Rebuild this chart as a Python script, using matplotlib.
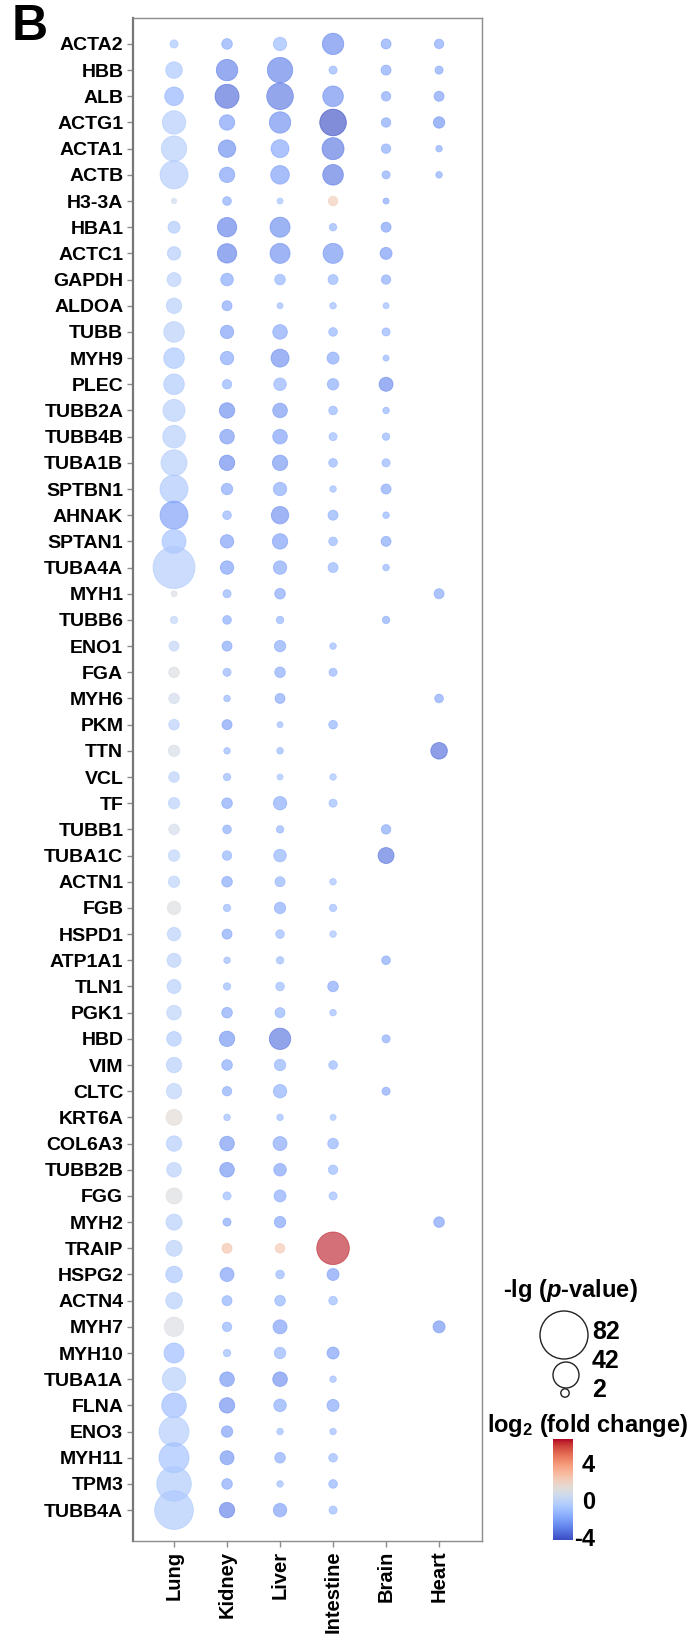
import numpy as np
import matplotlib
matplotlib.use('Agg')
import matplotlib.pyplot as plt
from matplotlib import rcParams
from matplotlib.colors import Normalize
from matplotlib.cm import ScalarMappable

rcParams['font.family'] = ['Liberation Sans', 'DejaVu Sans']
rcParams['font.weight'] = 'bold'
rcParams['axes.unicode_minus'] = False
rcParams['mathtext.fontset'] = 'custom'
rcParams['mathtext.rm'] = 'Liberation Sans:bold'
rcParams['mathtext.it'] = 'Liberation Sans:bold:italic'
rcParams['mathtext.bf'] = 'Liberation Sans:bold'

nan = np.nan

genes = ['ACTA2', 'HBB', 'ALB', 'ACTG1', 'ACTA1', 'ACTB', 'H3-3A', 'HBA1', 'ACTC1', 'GAPDH',
         'ALDOA', 'TUBB', 'MYH9', 'PLEC', 'TUBB2A', 'TUBB4B', 'TUBA1B', 'SPTBN1', 'AHNAK', 'SPTAN1',
         'TUBA4A', 'MYH1', 'TUBB6', 'ENO1', 'FGA', 'MYH6', 'PKM', 'TTN', 'VCL', 'TF',
         'TUBB1', 'TUBA1C', 'ACTN1', 'FGB', 'HSPD1', 'ATP1A1', 'TLN1', 'PGK1', 'HBD', 'VIM',
         'CLTC', 'KRT6A', 'COL6A3', 'TUBB2B', 'FGG', 'MYH2', 'TRAIP', 'HSPG2', 'ACTN4', 'MYH7',
         'MYH10', 'TUBA1A', 'FLNA', 'ENO3', 'MYH11', 'TPM3', 'TUBB4A']
tissues = ['Lung', 'Kidney', 'Liver', 'Intestine', 'Brain', 'Heart']

# -lg(p-value) per tissue (nan = not detected)
lung_lgp = [1.8, 20.6, 25.2, 36.1, 40.6, 45.6, 0.2, 10.2, 13.4, 14.7,
            17.9, 29.7, 29.7, 29.7, 32.9, 34.3, 42, 45.6, 45.6, 37.5,
            71, 0.6, 1.4, 5.6, 7, 7, 7, 8.8, 7, 8.8,
            7, 8.8, 8.8, 13.4, 13.4, 14.7, 14.7, 16.1, 16.1, 17.9,
            17.9, 19.3, 17.9, 16.1, 19.3, 19.3, 19.3, 20.6, 20.6, 27,
            28.4, 36.1, 38.8, 49.3, 49.3, 57.6, 65]
kidney_lgp = [7, 31.5, 37.5, 17.9, 22.5, 17.9, 2.5, 27, 27, 11.5,
              5.6, 13.4, 13.4, 4.3, 17.9, 16.1, 17.9, 8.8, 2.5, 13.4,
              13.4, 1.8, 2.5, 5.6, 1.8, 0.9, 5.6, 0.9, 1.4, 7,
              2.5, 4.3, 7, 1.4, 5.6, 0.9, 1.4, 7, 17.9, 7,
              4.3, 0.9, 16.1, 16.1, 1.8, 1.8, 5.6, 14.7, 5.6, 4.3,
              1.4, 16.1, 17.9, 8.8, 14.7, 7, 17.9]
liver_lgp = [13.4, 40.6, 43.1, 31.5, 23.8, 25.2, 0.6, 28.4, 28.4, 7,
             0.6, 16.1, 23.8, 11.5, 16.1, 16.1, 17.9, 13.4, 22.5, 17.9,
             13.4, 7, 1.4, 8.8, 7, 5.6, 0.6, 0.9, 0.6, 13.4,
             1.4, 11.5, 5.6, 8.8, 2.5, 1.4, 2.5, 5.6, 31.5, 8.8,
             13.4, 0.9, 14.7, 11.5, 10.2, 8.8, 4.3, 2.5, 7, 14.7,
             8.8, 16.1, 11.5, 0.9, 7, 0.9, 13.4]
intestine_lgp = [31.5, 1.8, 29.7, 43.1, 32.9, 29.7, 4.3, 1.4, 28.4, 5.6,
                 0.9, 2.5, 10.2, 8.8, 2.5, 1.8, 2.5, 0.9, 5.6, 2.5,
                 5.6, nan, nan, 0.9, 1.8, nan, 2.5, nan, 0.9, 1.8,
                 nan, nan, 0.9, 1.4, 0.9, nan, 7, 0.9, nan, 2.5,
                 nan, 0.6, 7, 4.3, 1.8, nan, 54, 10.2, 2.5, nan,
                 10.2, 0.9, 10.2, 0.9, 2.5, 2.5, 1.8]
brain_lgp = [5.6, 5.6, 4.3, 4.3, 4.3, 1.8, 0.6, 5.6, 10.2, 4.3,
             0.6, 1.8, 0.6, 14.7, 0.9, 1.4, 1.8, 5.6, 0.9, 5.6,
             0.9, nan, 1.4, nan, nan, nan, nan, nan, nan, nan,
             4.3, 19.3, nan, nan, nan, 2.5, nan, nan, 1.8, nan,
             1.8, nan, nan, nan, nan, nan, nan, nan, nan, nan,
             nan, nan, nan, nan, nan, nan, nan]
heart_lgp = [4.3, 1.8, 5.6, 8.8, 0.9, 0.9, nan, nan, nan, nan,
             nan, nan, nan, nan, nan, nan, nan, nan, nan, nan,
             nan, 5.6, nan, nan, nan, 2.5, nan, 20.6, nan, nan,
             nan, nan, nan, nan, nan, nan, nan, nan, nan, nan,
             nan, nan, nan, nan, nan, 7, nan, nan, nan, 10.2,
             nan, nan, nan, nan, nan, nan, nan]

# log2(fold change) per tissue
lung_fc = [-0.8, -0.8, -1.5, -0.5, -0.4, -0.5, 0.5, -0.6, -0.5, -0.3,
           -0.4, -0.3, -0.8, -0.6, -0.4, -0.4, -0.4, -0.7, -2.2, -1.0,
           -0.5, 0.9, 0.0, 0.0, 1.0, 0.6, -0.3, 0.8, -0.3, -0.3,
           0.7, -0.2, -0.2, 1.1, -0.3, -0.3, -0.4, -0.2, -0.6, -0.4,
           -0.2, 1.4, -0.5, -0.3, 1.1, -0.4, -0.3, -0.8, -0.4, 1.0,
           -1.2, -0.4, -1.2, -0.5, -1.0, -0.6, -0.6]
kidney_fc = [-1.8, -3.0, -3.5, -2.2, -2.7, -2.2, -1.8, -3.0, -3.0, -2.0,
             -2.0, -2.2, -2.0, -1.6, -2.7, -2.4, -2.8, -2.0, -1.5, -2.2,
             -2.2, -1.6, -1.8, -2.0, -1.5, -1.5, -2.2, -1.4, -1.4, -2.0,
             -1.8, -1.6, -2.0, -1.4, -2.0, -1.3, -1.3, -2.0, -2.5, -2.0,
             -1.8, -1.2, -2.4, -2.5, -1.3, -2.0, 2.6, -2.2, -1.7, -1.6,
             -1.3, -2.5, -2.6, -2.2, -2.5, -2.0, -3.0]
liver_fc = [-1.3, -3.0, -3.2, -2.6, -2.0, -2.2, -1.0, -2.7, -2.6, -1.5,
            -1.2, -2.0, -2.6, -1.5, -2.4, -2.2, -2.4, -1.8, -2.6, -2.2,
            -2.0, -2.0, -1.6, -1.8, -1.8, -2.0, -1.2, -1.4, -1.0, -1.8,
            -1.6, -1.6, -1.6, -1.8, -1.3, -1.3, -1.3, -1.6, -3.3, -1.6,
            -1.7, -1.2, -2.0, -2.1, -1.8, -2.1, 2.4, -1.4, -1.6, -2.2,
            -1.5, -2.6, -1.8, -1.2, -1.8, -1.2, -2.2]
intestine_fc = [-2.8, -1.5, -2.6, -4.2, -3.2, -3.2, 2.2, -1.5, -2.5, -1.5,
                -1.2, -1.5, -2.0, -1.8, -1.5, -1.3, -1.5, -1.2, -1.7, -1.5,
                -1.5, nan, nan, -1.3, -1.5, nan, -1.6, nan, -1.0, -1.3,
                nan, nan, -1.0, -1.2, -1.0, nan, -2.0, -1.2, nan, -1.4,
                nan, -1.0, -1.6, -1.4, -1.2, nan, 6.3, -2.2, -1.3, nan,
                -2.2, -1.2, -2.0, -1.2, -1.4, -1.6, -1.4]
brain_fc = [-2.0, -2.0, -2.0, -2.0, -1.8, -1.8, -2.0, -2.2, -2.3, -1.8,
            -1.2, -1.5, -1.5, -2.8, -1.5, -1.5, -1.5, -2.0, -1.5, -2.0,
            -1.5, nan, -1.8, nan, nan, nan, nan, nan, nan, nan,
            -2.0, -3.3, nan, nan, nan, -2.0, nan, nan, -1.8, nan,
            -2.0, nan, nan, nan, nan, nan, nan, nan, nan, nan,
            nan, nan, nan, nan, nan, nan, nan]
heart_fc = [-2.0, -2.0, -2.2, -2.5, -1.8, -1.8, nan, nan, nan, nan,
            nan, nan, nan, nan, nan, nan, nan, nan, nan, nan,
            nan, -2.0, nan, nan, nan, -2.0, nan, -3.5, nan, nan,
            nan, nan, nan, nan, nan, nan, nan, nan, nan, nan,
            nan, nan, nan, nan, nan, -2.2, nan, nan, nan, -2.5,
            nan, nan, nan, nan, nan, nan, nan]

lgp_all = [lung_lgp, kidney_lgp, liver_lgp, intestine_lgp, brain_lgp, heart_lgp]
fc_all = [lung_fc, kidney_fc, liver_fc, intestine_fc, brain_fc, heart_fc]

legend_vals = [82, 42, 2]
cbar_ticks = [4, 0, -4]

W, H = 697, 1635
DPI = 100
norm = Normalize(vmin=-4.3, vmax=6.6)
cmap = plt.get_cmap('coolwarm')
spine_color = '#8c8c8c'


def radius_px(v):
    return np.interp(v, [0, 2, 42, 82], [2.5, 4.2, 13, 24])


def marker_area(v):
    d_pt = 2 * radius_px(np.asarray(v, dtype=float)) * 72 / DPI
    return d_pt ** 2


fig = plt.figure(figsize=(W / DPI, H / DPI), dpi=DPI)
fig.patch.set_facecolor('white')

# main dot plot
ax = fig.add_axes([133 / W, 1 - 1541 / H, (482 - 133) / W, (1541 - 18) / H])
ypos = np.arange(len(genes))
for j, (lgp, fc) in enumerate(zip(lgp_all, fc_all)):
    lgp = np.array(lgp, dtype=float)
    fc = np.array(fc, dtype=float)
    m = ~np.isnan(lgp)
    ax.scatter(np.full(m.sum(), j), ypos[m], s=marker_area(lgp[m]), c=fc[m],
               cmap=cmap, norm=norm, alpha=0.65, linewidths=0.6, edgecolors='face')

ax.set_xlim(-0.774, 5.81)
ax.set_ylim(57.18, -0.99)
ax.set_yticks(ypos)
ax.set_yticklabels(genes, fontsize=14, fontweight='bold')
ax.set_xticks(range(len(tissues)))
ax.set_xticklabels(tissues, rotation=90, fontsize=14.5, fontweight='bold')
ax.tick_params(axis='both', color=spine_color, length=4, width=1, pad=3)
for side in ['top', 'right', 'bottom']:
    ax.spines[side].set_color(spine_color)
    ax.spines[side].set_linewidth(1.0)
ax.spines['left'].set_color('#777777')
ax.spines['left'].set_linewidth(1.6)

# overlay in pixel coordinates for legend and panel letter
ov = fig.add_axes([0, 0, 1, 1])
ov.set_xlim(0, W)
ov.set_ylim(H, 0)
ov.axis('off')
ov.patch.set_alpha(0)

ov.text(12, 27, 'B', fontsize=36, fontweight='bold', ha='left', va='center')

ov.text(570, 1290, '-lg ($p$-value)', fontsize=17, fontweight='bold',
        ha='center', va='center')
circ_y = [1335, 1375, 1393]
ov.scatter([564, 566, 565], circ_y, s=marker_area(legend_vals),
           facecolors='none', edgecolors='#222222', linewidths=1.0)
for v, ty in zip(legend_vals, [1332, 1361, 1390]):
    ov.text(592, ty, str(v), fontsize=18, fontweight='bold', ha='left', va='center')

ov.text(588, 1425, 'log$_2$ (fold change)', fontsize=17, fontweight='bold',
        ha='center', va='center')

# colorbar
cax = fig.add_axes([553 / W, 1 - 1540 / H, 20 / W, (1540 - 1439) / H])
cb = fig.colorbar(ScalarMappable(norm=norm, cmap=cmap), cax=cax, ticks=cbar_ticks)
cb.outline.set_visible(False)
cb.ax.tick_params(length=0, pad=16)
for t in cb.ax.get_yticklabels():
    t.set_fontsize(17)
    t.set_fontweight('bold')
    t.set_horizontalalignment('right')

fig.savefig('out.png', dpi=DPI, facecolor='white')
